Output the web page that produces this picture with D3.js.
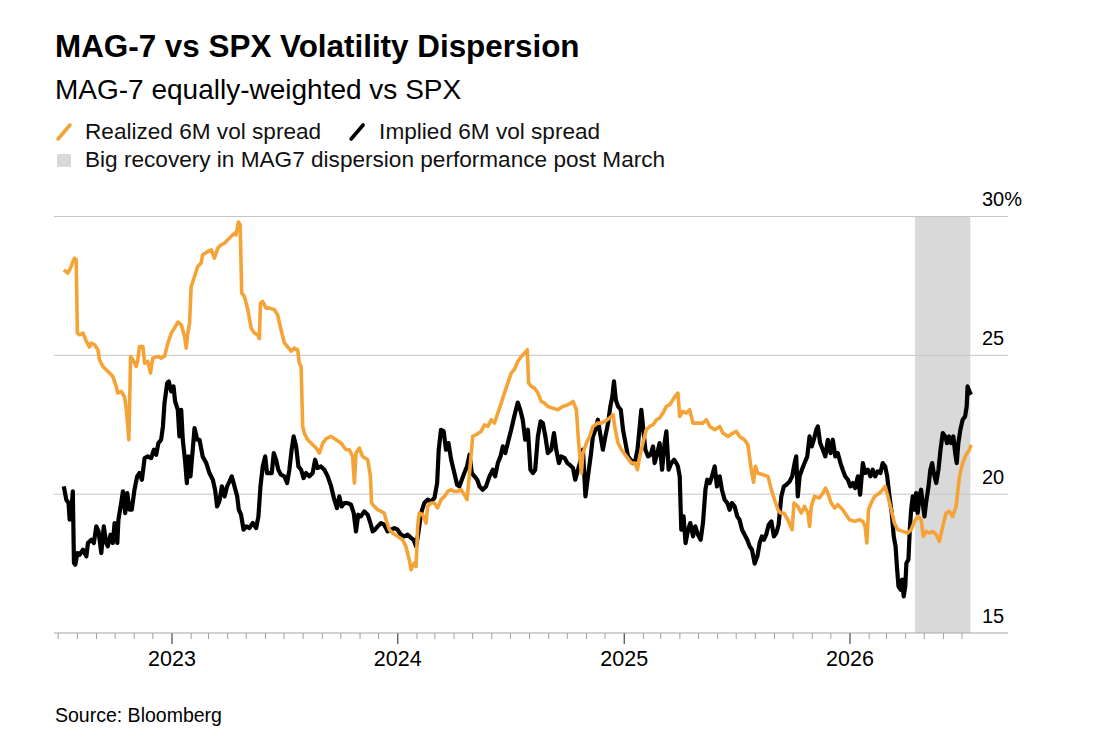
<!DOCTYPE html>
<html>
<head>
<meta charset="utf-8">
<script src="https://cdn.jsdelivr.net/npm/d3@7"></script>
<style>
  body { margin: 0; background: #fff; }
  text { font-family: "Liberation Sans", Arial, sans-serif; }
</style>
</head>
<body>
<div id="chart"></div>
<script>
// realized 6M vol spread, [decimal year, %]
const realized = [
  [2022.523, 28.08], [2022.541, 27.96], [2022.556, 28.2], [2022.563, 28.38], [2022.571, 28.5], [2022.578, 28.44],
  [2022.583, 25.8], [2022.593, 25.74], [2022.608, 25.8], [2022.623, 25.5], [2022.637, 25.3], [2022.645, 25.44],
  [2022.659, 25.38], [2022.674, 25.2], [2022.681, 24.84], [2022.696, 24.6], [2022.711, 24.48], [2022.726, 24.36],
  [2022.740, 24.24], [2022.755, 23.88], [2022.762, 23.64], [2022.777, 23.7], [2022.792, 23.5], [2022.800, 23.04],
  [2022.807, 22.4], [2022.811, 21.96], [2022.819, 24.96], [2022.829, 24.84], [2022.844, 24.6], [2022.851, 24.84],
  [2022.858, 25.32], [2022.873, 25.32], [2022.881, 24.72], [2022.895, 24.78], [2022.907, 24.36], [2022.917, 24.9],
  [2022.939, 24.96], [2022.954, 24.9], [2022.969, 24.96], [2022.984, 25.44], [2022.999, 25.8], [2023.013, 25.98],
  [2023.028, 26.2], [2023.043, 26.1], [2023.058, 25.68], [2023.065, 25.26], [2023.072, 25.8], [2023.080, 26.16],
  [2023.087, 27.48], [2023.102, 27.84], [2023.116, 28.2], [2023.131, 28.32], [2023.138, 28.62], [2023.161, 28.74],
  [2023.176, 28.8], [2023.190, 28.5], [2023.205, 28.86], [2023.220, 28.98], [2023.235, 29.04], [2023.249, 29.16],
  [2023.264, 29.28], [2023.279, 29.4], [2023.286, 29.34], [2023.296, 29.8], [2023.304, 29.7], [2023.311, 27.24],
  [2023.323, 27.12], [2023.338, 26.64], [2023.353, 25.98], [2023.367, 25.8], [2023.382, 25.74], [2023.389, 25.6],
  [2023.394, 26.88], [2023.404, 26.94], [2023.419, 26.7], [2023.434, 26.7], [2023.456, 26.64], [2023.470, 26.46],
  [2023.485, 25.92], [2023.500, 25.45], [2023.515, 25.3], [2023.530, 25.15], [2023.544, 25.26], [2023.559, 25.2],
  [2023.566, 24.72], [2023.574, 24.6], [2023.581, 22.44], [2023.588, 22.2], [2023.603, 21.96], [2023.618, 21.84],
  [2023.640, 21.66], [2023.655, 21.48], [2023.670, 21.84], [2023.685, 22.0], [2023.707, 22.08], [2023.729, 21.96],
  [2023.751, 21.84], [2023.773, 21.6], [2023.788, 21.6], [2023.802, 21.36], [2023.810, 20.4], [2023.817, 21.48],
  [2023.832, 21.66], [2023.846, 21.36], [2023.869, 21.24], [2023.881, 20.64], [2023.886, 19.68], [2023.898, 19.56],
  [2023.913, 19.44], [2023.928, 19.38], [2023.942, 19.32], [2023.950, 19.08], [2023.965, 18.72], [2023.979, 18.6],
  [2024.001, 18.48], [2024.023, 18.36], [2024.038, 18.12], [2024.053, 17.64], [2024.061, 17.28], [2024.075, 17.52],
  [2024.083, 17.4], [2024.090, 18.84], [2024.097, 19.32], [2024.112, 19.26], [2024.127, 18.96], [2024.134, 19.56],
  [2024.149, 19.68], [2024.164, 19.68], [2024.178, 19.5], [2024.193, 19.8], [2024.208, 19.92], [2024.223, 20.1],
  [2024.238, 20.16], [2024.252, 20.1], [2024.267, 20.1], [2024.282, 20.16], [2024.296, 19.98], [2024.308, 19.8],
  [2024.319, 20.76], [2024.333, 22.08], [2024.348, 22.14], [2024.370, 22.26], [2024.385, 22.5], [2024.400, 22.44],
  [2024.415, 22.68], [2024.429, 22.56], [2024.444, 22.92], [2024.459, 23.28], [2024.473, 23.64], [2024.488, 24.0],
  [2024.503, 24.36], [2024.518, 24.5], [2024.532, 24.78], [2024.547, 24.95], [2024.562, 25.08], [2024.574, 25.2],
  [2024.580, 24.0], [2024.592, 23.88], [2024.606, 23.82], [2024.621, 23.64], [2024.636, 23.34], [2024.650, 23.28],
  [2024.665, 23.16], [2024.687, 23.1], [2024.709, 23.04], [2024.731, 23.16], [2024.754, 23.22], [2024.776, 23.34],
  [2024.791, 23.04], [2024.801, 21.84], [2024.813, 20.76], [2024.820, 21.48], [2024.835, 21.84], [2024.850, 22.08],
  [2024.864, 22.44], [2024.886, 22.56], [2024.901, 22.56], [2024.916, 22.62], [2024.938, 22.74], [2024.953, 22.86],
  [2024.960, 22.44], [2024.975, 21.84], [2024.990, 21.6], [2025.012, 21.36], [2025.034, 21.12], [2025.049, 21.12],
  [2025.061, 20.88], [2025.071, 21.36], [2025.085, 21.84], [2025.100, 22.32], [2025.115, 22.44], [2025.130, 22.5],
  [2025.145, 22.68], [2025.159, 22.74], [2025.174, 22.92], [2025.189, 23.16], [2025.204, 23.22], [2025.218, 23.4],
  [2025.233, 23.58], [2025.240, 23.64], [2025.248, 22.8], [2025.262, 22.98], [2025.277, 22.92], [2025.292, 23.04],
  [2025.307, 22.56], [2025.329, 22.56], [2025.351, 22.56], [2025.366, 22.68], [2025.381, 22.44], [2025.403, 22.32],
  [2025.425, 22.44], [2025.439, 22.2], [2025.462, 22.08], [2025.484, 22.2], [2025.499, 22.26], [2025.513, 22.08],
  [2025.535, 21.96], [2025.550, 21.78], [2025.565, 20.88], [2025.575, 20.43], [2025.583, 21.0], [2025.594, 20.76],
  [2025.616, 20.7], [2025.639, 20.64], [2025.654, 20.16], [2025.668, 19.8], [2025.683, 19.44], [2025.695, 19.32],
  [2025.709, 19.32], [2025.727, 19.08], [2025.746, 18.72], [2025.754, 19.68], [2025.771, 19.56], [2025.786, 19.32],
  [2025.801, 19.56], [2025.816, 19.32], [2025.823, 18.84], [2025.831, 19.56], [2025.845, 19.92], [2025.867, 19.86],
  [2025.882, 20.04], [2025.894, 20.22], [2025.904, 20.04], [2025.919, 19.68], [2025.934, 19.5], [2025.948, 19.62],
  [2025.970, 19.44], [2025.985, 19.26], [2026.000, 19.08], [2026.022, 19.02], [2026.044, 19.08], [2026.059, 19.02],
  [2026.069, 18.84], [2026.077, 18.24], [2026.084, 19.44], [2026.096, 19.68], [2026.111, 19.92], [2026.133, 20.04],
  [2026.147, 20.16], [2026.158, 20.28], [2026.170, 19.92], [2026.185, 19.44], [2026.199, 18.96], [2026.214, 18.72],
  [2026.236, 18.66], [2026.258, 18.6], [2026.273, 18.72], [2026.288, 19.02], [2026.302, 19.2], [2026.317, 19.08],
  [2026.327, 18.48], [2026.339, 18.66], [2026.354, 18.6], [2026.369, 18.66], [2026.384, 18.54], [2026.398, 18.3],
  [2026.413, 18.84], [2026.428, 19.32], [2026.442, 19.38], [2026.457, 19.2], [2026.472, 19.56], [2026.487, 20.64],
  [2026.501, 21.12], [2026.516, 21.42], [2026.531, 21.6], [2026.538, 21.78]
];

// implied 6M vol spread, [decimal year, %]
const implied = [
  [2022.523, 20.28], [2022.534, 19.8], [2022.544, 19.68], [2022.549, 19.08], [2022.556, 19.38], [2022.563, 20.1],
  [2022.568, 17.52], [2022.574, 17.46], [2022.583, 17.88], [2022.593, 17.82], [2022.608, 18.0], [2022.623, 17.76],
  [2022.630, 18.24], [2022.645, 18.36], [2022.656, 18.24], [2022.667, 18.84], [2022.677, 18.66], [2022.689, 17.88],
  [2022.700, 18.84], [2022.711, 18.24], [2022.718, 18.12], [2022.730, 18.54], [2022.740, 18.24], [2022.748, 18.96],
  [2022.760, 18.24], [2022.765, 19.08], [2022.777, 19.68], [2022.785, 20.1], [2022.795, 19.32], [2022.804, 20.04],
  [2022.814, 19.44], [2022.824, 19.44], [2022.836, 20.16], [2022.848, 20.64], [2022.858, 20.76], [2022.869, 20.52],
  [2022.881, 21.3], [2022.895, 21.36], [2022.910, 21.3], [2022.922, 21.6], [2022.932, 21.42], [2022.942, 21.84],
  [2022.954, 21.96], [2022.962, 22.44], [2022.969, 23.28], [2022.981, 24.0], [2022.988, 24.06], [2022.999, 23.7],
  [2023.009, 23.88], [2023.016, 23.34], [2023.028, 23.04], [2023.035, 22.08], [2023.043, 23.04], [2023.050, 21.96],
  [2023.061, 21.12], [2023.068, 20.4], [2023.075, 21.36], [2023.084, 20.64], [2023.094, 21.6], [2023.102, 22.38],
  [2023.114, 21.96], [2023.124, 21.96], [2023.138, 21.36], [2023.154, 21.12], [2023.168, 20.76], [2023.183, 20.52],
  [2023.193, 20.16], [2023.202, 19.56], [2023.212, 19.74], [2023.223, 20.28], [2023.235, 19.92], [2023.246, 20.28],
  [2023.257, 20.46], [2023.267, 20.64], [2023.279, 20.28], [2023.291, 19.92], [2023.298, 19.44], [2023.308, 19.26],
  [2023.319, 18.72], [2023.331, 18.84], [2023.345, 18.78], [2023.360, 18.96], [2023.375, 18.78], [2023.385, 19.2],
  [2023.394, 20.28], [2023.404, 21.0], [2023.415, 21.36], [2023.423, 20.76], [2023.434, 20.76], [2023.444, 20.76],
  [2023.453, 21.48], [2023.463, 21.24], [2023.473, 20.88], [2023.485, 20.7], [2023.500, 20.64], [2023.512, 20.4],
  [2023.522, 20.88], [2023.532, 21.6], [2023.541, 22.08], [2023.552, 21.72], [2023.562, 21.0], [2023.574, 20.88],
  [2023.585, 20.58], [2023.596, 20.76], [2023.611, 20.64], [2023.625, 20.76], [2023.636, 21.24], [2023.647, 20.94],
  [2023.662, 21.0], [2023.677, 20.88], [2023.692, 20.64], [2023.707, 20.28], [2023.721, 19.8], [2023.733, 19.5],
  [2023.743, 19.92], [2023.754, 19.56], [2023.765, 19.68], [2023.780, 19.68], [2023.795, 19.62], [2023.807, 19.32],
  [2023.817, 18.66], [2023.827, 19.26], [2023.839, 19.2], [2023.854, 19.38], [2023.869, 19.26], [2023.881, 18.96],
  [2023.891, 18.66], [2023.901, 18.72], [2023.913, 18.84], [2023.928, 18.96], [2023.942, 18.9], [2023.957, 18.66],
  [2023.972, 18.72], [2023.987, 18.78], [2024.001, 18.72], [2024.016, 18.54], [2024.031, 18.48], [2024.046, 18.54],
  [2024.061, 18.42], [2024.072, 18.36], [2024.083, 18.12], [2024.093, 18.6], [2024.105, 19.32], [2024.119, 19.68],
  [2024.134, 19.8], [2024.149, 19.74], [2024.164, 19.86], [2024.176, 20.4], [2024.183, 21.6], [2024.193, 22.32],
  [2024.205, 22.26], [2024.215, 21.6], [2024.226, 21.84], [2024.238, 21.24], [2024.252, 20.76], [2024.264, 20.34],
  [2024.274, 20.28], [2024.285, 20.52], [2024.296, 20.76], [2024.308, 21.0], [2024.319, 21.42], [2024.329, 20.76],
  [2024.341, 20.64], [2024.353, 20.52], [2024.363, 20.28], [2024.377, 20.16], [2024.392, 20.28], [2024.407, 20.64],
  [2024.422, 20.88], [2024.432, 20.64], [2024.444, 21.12], [2024.456, 21.36], [2024.466, 21.72], [2024.477, 21.48],
  [2024.488, 21.84], [2024.503, 22.32], [2024.518, 22.85], [2024.532, 23.3], [2024.543, 23.04], [2024.554, 22.68],
  [2024.565, 21.96], [2024.577, 22.32], [2024.588, 20.88], [2024.599, 20.76], [2024.609, 20.88], [2024.621, 22.08],
  [2024.633, 22.62], [2024.643, 22.56], [2024.654, 22.08], [2024.665, 21.48], [2024.680, 21.6], [2024.692, 22.2],
  [2024.702, 21.6], [2024.714, 21.12], [2024.724, 21.36], [2024.739, 21.3], [2024.751, 21.12], [2024.761, 21.06],
  [2024.776, 20.94], [2024.786, 20.52], [2024.798, 20.88], [2024.810, 21.24], [2024.820, 21.6], [2024.831, 19.92],
  [2024.842, 20.64], [2024.854, 21.36], [2024.864, 22.08], [2024.875, 22.32], [2024.886, 22.68], [2024.898, 22.08],
  [2024.908, 21.6], [2024.919, 22.08], [2024.931, 22.56], [2024.941, 23.16], [2024.950, 23.52], [2024.957, 24.06],
  [2024.965, 23.4], [2024.975, 23.16], [2024.987, 23.04], [2024.997, 22.32], [2025.008, 21.84], [2025.019, 21.36],
  [2025.031, 21.24], [2025.041, 21.12], [2025.052, 21.24], [2025.061, 21.6], [2025.071, 22.44], [2025.078, 23.04],
  [2025.087, 22.32], [2025.096, 21.6], [2025.108, 21.36], [2025.119, 21.42], [2025.130, 21.72], [2025.137, 21.12],
  [2025.149, 21.48], [2025.159, 21.84], [2025.170, 20.88], [2025.181, 21.84], [2025.189, 22.26], [2025.199, 20.88],
  [2025.211, 21.12], [2025.223, 21.24], [2025.233, 21.12], [2025.240, 21.0], [2025.248, 20.64], [2025.255, 18.72],
  [2025.265, 19.2], [2025.274, 18.24], [2025.285, 18.72], [2025.295, 18.96], [2025.307, 18.48], [2025.317, 18.84],
  [2025.329, 18.54], [2025.341, 18.36], [2025.351, 18.96], [2025.362, 20.16], [2025.370, 20.52], [2025.381, 20.4],
  [2025.391, 20.64], [2025.403, 21.0], [2025.413, 20.28], [2025.425, 20.64], [2025.435, 20.16], [2025.447, 19.8],
  [2025.459, 19.68], [2025.469, 19.44], [2025.479, 19.68], [2025.491, 19.56], [2025.503, 19.2], [2025.513, 19.08],
  [2025.524, 18.72], [2025.535, 18.55], [2025.547, 18.36], [2025.558, 18.12], [2025.568, 18.0], [2025.580, 17.5],
  [2025.592, 17.76], [2025.602, 18.24], [2025.612, 18.48], [2025.621, 18.36], [2025.631, 18.54], [2025.642, 18.9],
  [2025.654, 19.02], [2025.665, 18.48], [2025.676, 18.6], [2025.686, 18.9], [2025.698, 19.92], [2025.709, 20.28],
  [2025.720, 20.34], [2025.735, 20.46], [2025.746, 20.64], [2025.757, 21.12], [2025.764, 21.36], [2025.771, 19.92],
  [2025.779, 20.64], [2025.789, 20.88], [2025.801, 21.12], [2025.813, 21.36], [2025.823, 22.08], [2025.833, 21.72],
  [2025.842, 21.96], [2025.853, 22.32], [2025.860, 22.44], [2025.870, 21.84], [2025.882, 21.6], [2025.893, 21.36],
  [2025.904, 21.96], [2025.916, 21.48], [2025.926, 21.96], [2025.937, 21.36], [2025.948, 21.48], [2025.960, 21.12],
  [2025.970, 20.88], [2025.981, 20.64], [2025.993, 20.52], [2026.004, 20.28], [2026.015, 20.4], [2026.025, 20.22],
  [2026.037, 20.64], [2026.047, 19.98], [2026.059, 21.12], [2026.069, 20.76], [2026.081, 20.88], [2026.093, 20.64],
  [2026.103, 20.88], [2026.114, 20.64], [2026.125, 20.82], [2026.137, 20.76], [2026.147, 21.12], [2026.158, 21.0],
  [2026.167, 20.64], [2026.177, 19.92], [2026.187, 19.32], [2026.196, 18.48], [2026.204, 18.12], [2026.211, 17.28],
  [2026.217, 16.68], [2026.226, 16.56], [2026.233, 16.92], [2026.240, 16.32], [2026.247, 16.68], [2026.252, 17.52],
  [2026.261, 17.64], [2026.267, 18.72], [2026.273, 19.44], [2026.280, 19.92], [2026.288, 19.44], [2026.295, 20.04],
  [2026.302, 19.32], [2026.310, 19.92], [2026.317, 20.16], [2026.324, 19.68], [2026.332, 19.2], [2026.339, 19.68],
  [2026.350, 20.28], [2026.358, 20.88], [2026.366, 21.12], [2026.373, 20.76], [2026.384, 20.4], [2026.394, 20.88],
  [2026.403, 21.6], [2026.413, 22.2], [2026.424, 22.08], [2026.432, 21.84], [2026.441, 22.08], [2026.450, 21.84],
  [2026.460, 22.08], [2026.468, 21.48], [2026.475, 21.12], [2026.482, 21.84], [2026.491, 22.32], [2026.501, 22.68],
  [2026.512, 22.8], [2026.519, 23.16], [2026.523, 23.88], [2026.531, 23.7], [2026.538, 23.58]
];

const yTicks = [15, 20, 25, 30];
const yearTicks = [2023, 2024, 2025, 2026];
const shadeSpan = [2026.29, 2026.535]; // recovery window
const seriesNames = ["Realized 6M vol spread", "Implied 6M vol spread"];
const shadeName = "Big recovery in MAG7 dispersion performance post March";
const titleText = "MAG-7 vs SPX Volatility Dispersion";
const subtitleText = "MAG-7 equally-weighted vs SPX";
const sourceText = "Source: Bloomberg";

const orange = "#f5a336";
const shadeColor = "#d9d9d9";

// decimal year -> Date
function yearToDate(t) {
    const yr = Math.floor(t);
    const a = new Date(yr, 0, 1), b = new Date(yr + 1, 0, 1);
    return new Date(+a + (t - yr) * (b - a));
}

window.addEventListener("load", function () {
    const width = 1100, height = 749;
    const plotLeft = 54, plotRight = 1008;

    const svg = d3.select("#chart").append("svg")
        .attr("width", width)
        .attr("height", height);

    svg.append("rect").attr("width", width).attr("height", height).attr("fill", "#fff");

    const x = d3.scaleTime()
        .domain([new Date(2023, 0, 1), new Date(2026, 0, 1)])
        .range([171.5, 849.5]);
    const y = d3.scaleLinear()
        .domain([15, 30])
        .range([633, 216.5]);

    // header
    svg.append("text").attr("x", 55).attr("y", 57)
        .attr("font-size", 31.4).attr("font-weight", "bold").attr("fill", "#000")
        .text(titleText);
    svg.append("text").attr("x", 55).attr("y", 98.5)
        .attr("font-size", 28).attr("fill", "#000")
        .text(subtitleText);

    // legend
    const leg = svg.append("g");
    const legSize = 22.6;
    leg.append("line").attr("x1", 58).attr("y1", 139).attr("x2", 70).attr("y2", 125)
        .attr("stroke", orange).attr("stroke-width", 3.6).attr("stroke-linecap", "round");
    const t1 = leg.append("text").attr("x", 85).attr("y", 139)
        .attr("font-size", legSize).attr("fill", "#111").text(seriesNames[0]);
    const x2 = 85 + t1.node().getComputedTextLength() + 29;
    leg.append("line").attr("x1", x2 + 1).attr("y1", 139).attr("x2", x2 + 13).attr("y2", 125)
        .attr("stroke", "#000").attr("stroke-width", 3.6).attr("stroke-linecap", "round");
    leg.append("text").attr("x", x2 + 29).attr("y", 139)
        .attr("font-size", legSize).attr("fill", "#111").text(seriesNames[1]);
    leg.append("rect").attr("x", 57).attr("y", 154).attr("width", 14).attr("height", 13)
        .attr("rx", 1.5).attr("fill", shadeColor);
    leg.append("text").attr("x", 85).attr("y", 166.5)
        .attr("font-size", legSize).attr("fill", "#111").text(shadeName);

    // shaded window
    svg.append("rect")
        .attr("x", x(yearToDate(shadeSpan[0])))
        .attr("y", y(30))
        .attr("width", x(yearToDate(shadeSpan[1])) - x(yearToDate(shadeSpan[0])))
        .attr("height", y(15) - y(30))
        .attr("fill", shadeColor);

    // gridlines
    svg.append("g").selectAll("line")
        .data(yTicks.filter(d => d > 15))
        .enter().append("line")
        .attr("x1", plotLeft).attr("x2", plotRight)
        .attr("y1", d => y(d)).attr("y2", d => y(d))
        .attr("stroke", "#c6c6c6").attr("stroke-width", 1);

    // right labels
    svg.append("g").selectAll("text")
        .data(yTicks)
        .enter().append("text")
        .attr("x", 982)
        .attr("y", d => y(d) - 10.5)
        .attr("font-size", 20).attr("fill", "#000")
        .text(d => d === 30 ? "30%" : d);

    // monthly minor ticks
    const months = d3.timeMonth.range(new Date(2022, 6, 1), new Date(2026, 6, 2))
        .filter(d => d.getMonth() !== 0);
    svg.append("g")
        .attr("transform", `translate(0,${y(15)})`)
        .call(d3.axisBottom(x).tickValues(months).tickSize(6).tickFormat(""))
        .call(g => g.select(".domain").remove())
        .call(g => g.selectAll("line").attr("stroke", "#a0a0a0"));

    // year ticks
    svg.append("g")
        .attr("transform", `translate(0,${y(15)})`)
        .call(d3.axisBottom(x)
            .tickValues(yearTicks.map(v => new Date(v, 0, 1)))
            .tickSize(11).tickPadding(7)
            .tickFormat(d3.timeFormat("%Y")))
        .call(g => g.select(".domain").remove())
        .call(g => g.selectAll("line").attr("stroke", "#222"))
        .call(g => g.selectAll("text")
            .attr("font-size", 21.5)
            .attr("font-family", "'Liberation Sans', Arial, sans-serif")
            .attr("fill", "#000"));

    // baseline
    svg.append("line")
        .attr("x1", plotLeft).attr("x2", plotRight)
        .attr("y1", y(15)).attr("y2", y(15))
        .attr("stroke", "#a6a6a6").attr("stroke-width", 1.2);

    const line = d3.line()
        .x(d => x(yearToDate(d[0])))
        .y(d => y(d[1]))
        .curve(d3.curveLinear);

    svg.append("path")
        .datum(implied)
        .attr("d", line)
        .attr("fill", "none")
        .attr("stroke", "#000")
        .attr("stroke-width", 4.2)
        .attr("stroke-linejoin", "round");

    svg.append("path")
        .datum(realized)
        .attr("d", line)
        .attr("fill", "none")
        .attr("stroke", orange)
        .attr("stroke-width", 3.6)
        .attr("stroke-linejoin", "round");

    // footer
    svg.append("text").attr("x", 55).attr("y", 721.5)
        .attr("font-size", 19.5).attr("fill", "#000")
        .text(sourceText);
});
</script>
</body>
</html>
